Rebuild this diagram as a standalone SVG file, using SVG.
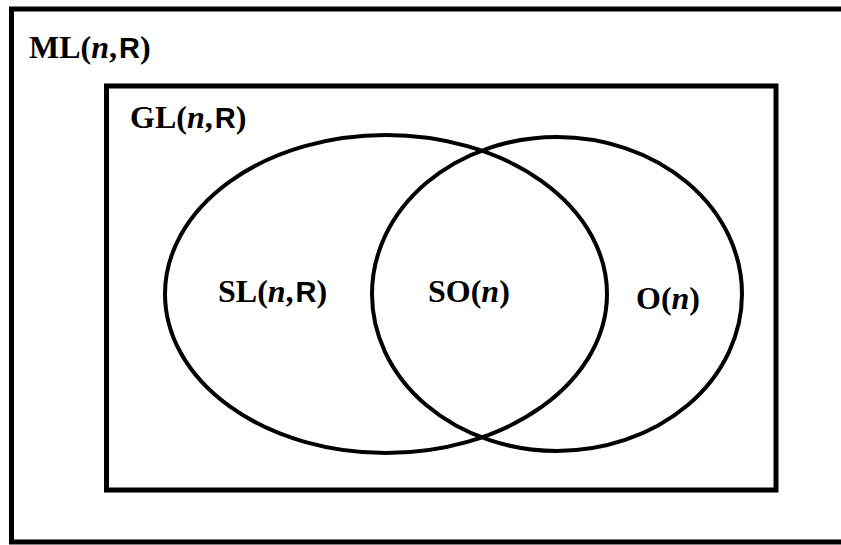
<svg xmlns="http://www.w3.org/2000/svg" width="841" height="545" viewBox="0 0 841 545">
<style>
.box{fill:none;stroke:#000;stroke-width:5}
.set{fill:none;stroke:#000;stroke-width:4}
.lbl{font-family:"Liberation Serif","Times New Roman",serif;font-weight:bold;font-size:32px;fill:#000}
.it{font-style:italic}
.bb{font-family:"Liberation Sans",Arial,sans-serif;font-weight:bold;font-size:29px}
</style>
<rect width="841" height="545" fill="#fff"/>
<g id="ML">
<rect class="box" x="11.5" y="9" width="840" height="533"/>
<text class="lbl" x="29" y="58">ML(<tspan class="it">n</tspan>,<tspan class="bb" dx="2">R</tspan>)</text>
</g>
<g id="GL">
<rect class="box" x="106.5" y="86" width="669.5" height="404"/>
<text class="lbl" x="130" y="128">GL(<tspan class="it">n</tspan>,<tspan class="bb" dx="2">R</tspan>)</text>
</g>
<g id="SL">
<ellipse class="set" cx="386" cy="294" rx="221" ry="159"/>
<text class="lbl" x="218" y="302">SL(<tspan class="it">n</tspan>,<tspan class="bb" dx="2">R</tspan>)</text>
</g>
<g id="O">
<ellipse class="set" cx="557" cy="294" rx="185" ry="157"/>
<text class="lbl" x="636" y="309">O(<tspan class="it">n</tspan>)</text>
</g>
<g id="SO">
<text class="lbl" x="428" y="302">SO(<tspan class="it">n</tspan>)</text>
</g>
<g id="connectors"></g>
</svg>
